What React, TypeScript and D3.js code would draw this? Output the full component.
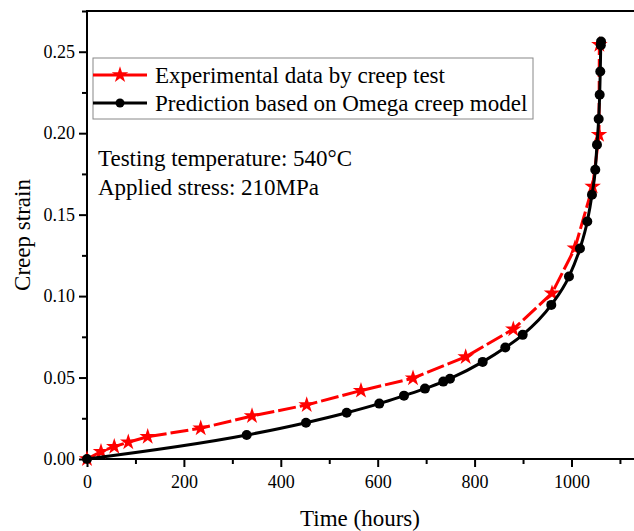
import React, { useEffect, useRef } from "react";
import * as d3 from "d3";

// experimental creep test points (hours, strain)
const timeExp = [0, 28.9, 56.3, 85.2, 125.3, 234.7, 340.6, 453.5, 565.5, 672.9, 781.6, 879.9, 959.8, 1007, 1043.7, 1056.8, 1057.5];
const strainExp = [0, 0.0045, 0.0076, 0.0103, 0.0137, 0.0189, 0.0264, 0.0332, 0.042, 0.0496, 0.0627, 0.0797, 0.1018, 0.1294, 0.1673, 0.199, 0.2543];

// Omega model prediction
const timePred = [0, 329.6, 452, 536, 603.3, 654.3, 697.6, 735.4, 749.2, 816.7, 863.4, 899.3, 958.3, 994.8, 1017.5, 1032.6, 1042.3, 1049.1, 1052.6, 1056.1, 1058.2, 1059.4, 1060.5, 1061];
const strainPred = [0, 0.0147, 0.0223, 0.0284, 0.034, 0.0389, 0.0432, 0.0475, 0.0493, 0.0596, 0.0684, 0.0762, 0.0946, 0.112, 0.1292, 0.1458, 0.1622, 0.1775, 0.1929, 0.2087, 0.2236, 0.2379, 0.254, 0.2563];

const xTicks = [0, 200, 400, 600, 800, 1000];
const yTicks = [0, 0.05, 0.1, 0.15, 0.2, 0.25];

const legendLabels = ["Experimental data by creep test", "Prediction based on Omega creep model"];
const noteLines = ["Testing temperature: 540°C", "Applied stress: 210MPa"];

const FONT = "'Liberation Serif', 'Times New Roman', serif";

const App = () => {
  const ref = useRef<SVGSVGElement | null>(null);
  const width = 634;
  const height = 531;

  useEffect(() => {
    const svg = d3.select(ref.current);
    svg.selectAll("*").remove();

    const x = d3.scaleLinear().domain([0, 1128]).range([87, 633.5]);
    const y = d3.scaleLinear().domain([0, 0.275]).range([459, 11]);

    const expData = timeExp.map((t, i) => [t, strainExp[i]] as [number, number]);
    const predData = timePred.map((t, i) => [t, strainPred[i]] as [number, number]);

    // axes
    const xAxis = d3.axisBottom(x).tickValues(xTicks).tickSize(8).tickFormat(d3.format("d"));
    const xMinor = d3.axisBottom(x).tickValues(d3.range(100, 1101, 200)).tickSize(5).tickFormat(() => "");
    const yAxis = d3.axisLeft(y).tickValues(yTicks).tickSize(8).tickFormat(d3.format(".2f"));
    const yMinor = d3.axisLeft(y).tickValues(d3.range(0.025, 0.276, 0.05)).tickSize(5).tickFormat(() => "");

    const styleAxis = (g: any) => {
      g.attr("font-family", FONT).attr("font-size", 18);
      g.select(".domain").remove();
      g.selectAll(".tick line").attr("stroke", "#000").attr("stroke-width", 2);
      g.selectAll(".tick text").attr("fill", "#000");
    };

    svg.append("g").attr("transform", "translate(0,459)").call(xMinor).call(styleAxis);
    svg.append("g").attr("transform", "translate(0,459)").call(xAxis).call(styleAxis)
      .selectAll(".tick text").attr("dy", "1em");
    svg.append("g").attr("transform", "translate(87,0)").call(yMinor).call(styleAxis);
    svg.append("g").attr("transform", "translate(87,0)").call(yAxis).call(styleAxis)
      .selectAll(".tick text").attr("x", -12);

    svg.append("line").attr("x1", 87).attr("x2", 634).attr("y1", 459).attr("y2", 459).attr("stroke", "#000").attr("stroke-width", 2);
    svg.append("line").attr("x1", 87).attr("x2", 87).attr("y1", 11).attr("y2", 459).attr("stroke", "#000").attr("stroke-width", 2);
    svg.append("line").attr("x1", 86).attr("x2", 634).attr("y1", 11).attr("y2", 11).attr("stroke", "#000").attr("stroke-width", 2);

    // titles
    svg.append("text").attr("x", 360).attr("y", 526).attr("text-anchor", "middle")
      .style("font-family", FONT).style("font-size", "23px").text("Time (hours)");
    svg.append("text").attr("transform", "translate(30,235) rotate(-90)").attr("text-anchor", "middle")
      .style("font-family", FONT).style("font-size", "23px").text("Creep strain");

    // experimental series
    const lineExp = d3.line().x((d) => x(d[0])).y((d) => y(d[1]));
    svg.append("path").attr("d", lineExp(expData)).attr("fill", "none").attr("stroke", "#ff0000")
      .attr("stroke-width", 3).attr("stroke-dasharray", "18,4");
    const star = d3.symbol().type(d3.symbolStar).size(85);
    svg.selectAll(".star").data(expData).enter().append("path")
      .attr("d", star).attr("fill", "#ff0000")
      .attr("transform", (d) => `translate(${x(d[0])},${y(d[1])})`);

    // prediction series
    const linePred = d3.line().x((d) => x(d[0])).y((d) => y(d[1])).curve(d3.curveMonotoneX);
    svg.append("path").attr("d", linePred(predData)).attr("fill", "none").attr("stroke", "#000")
      .attr("stroke-width", 3);
    svg.selectAll(".dot").data(predData).enter().append("circle")
      .attr("cx", (d) => x(d[0])).attr("cy", (d) => y(d[1])).attr("r", 5).attr("fill", "#000");

    // legend
    const lg = svg.append("g");
    lg.append("rect").attr("x", 93).attr("y", 58).attr("width", 440).attr("height", 61)
      .attr("fill", "#fff").attr("stroke", "#888").attr("stroke-width", 1);
    const rows = [75, 103];
    lg.append("line").attr("x1", 93).attr("x2", 147).attr("y1", rows[0]).attr("y2", rows[0]).attr("stroke", "#ff0000").attr("stroke-width", 3);
    lg.append("path").attr("d", star).attr("fill", "#ff0000").attr("transform", `translate(120,${rows[0]})`);
    lg.append("line").attr("x1", 93).attr("x2", 147).attr("y1", rows[1]).attr("y2", rows[1]).attr("stroke", "#000").attr("stroke-width", 3);
    lg.append("circle").attr("cx", 120).attr("cy", rows[1]).attr("r", 4.5).attr("fill", "#000");
    legendLabels.forEach((t, i) => {
      lg.append("text").attr("x", 155).attr("y", rows[i] + 8).style("font-family", FONT).style("font-size", "23px").text(t);
    });

    // annotation
    noteLines.forEach((t, i) => {
      svg.append("text").attr("x", 98).attr("y", 166 + i * 29).style("font-family", FONT).style("font-size", "23px").text(t);
    });
  }, []);

  return (
    <div style={{ position: "absolute", left: 0, top: 0 }}>
      <svg ref={ref} width={width} height={height} style={{ display: "block", background: "#fff" }} />
    </div>
  );
};

export default App;
